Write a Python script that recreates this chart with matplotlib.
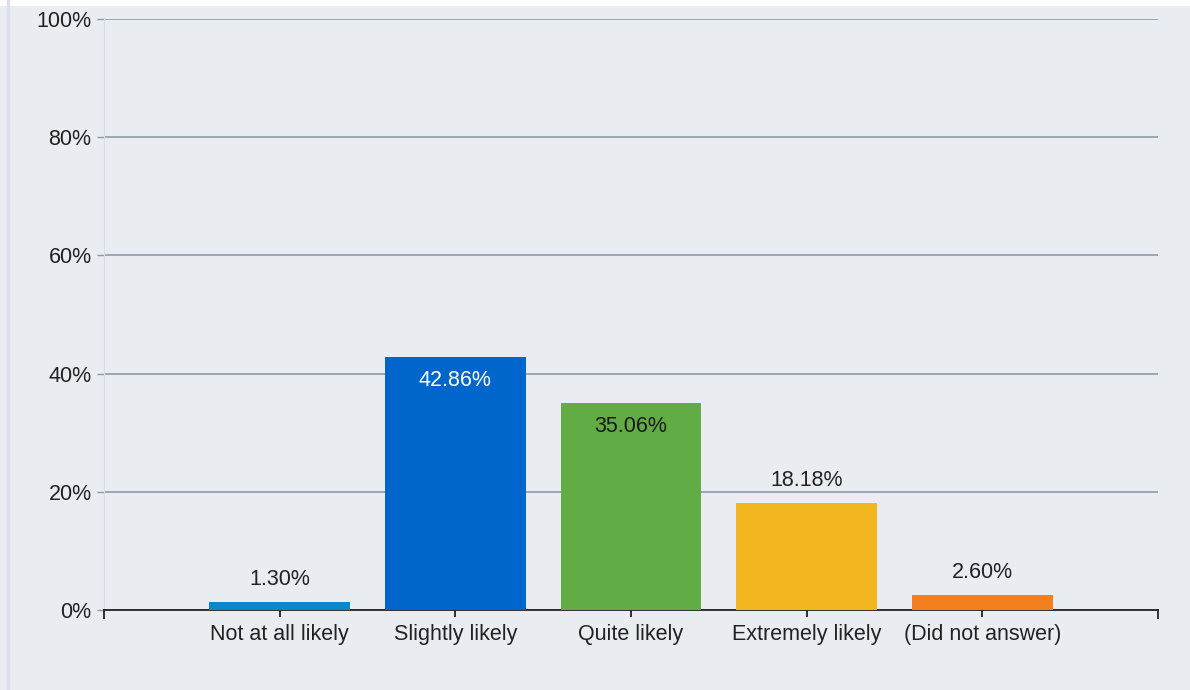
import matplotlib
matplotlib.use("Agg")
import matplotlib.pyplot as plt
from matplotlib.patches import Rectangle

CATEGORIES = ["Not at all likely", "Slightly likely", "Quite likely",
              "Extremely likely", "(Did not answer)"]
VALUES = [1.30, 42.86, 35.06, 18.18, 2.60]
COLORS = ["#0A86C9", "#0066CC", "#62AC45", "#F2B71E", "#F47F20"]
Y_TICKS = [0, 20, 40, 60, 80, 100]

BG = "#E9EDF1"
FS = 15.5
plt.rcParams['font.family'] = ['Liberation Sans', 'DejaVu Sans']

fig = plt.figure(figsize=(11.9, 6.9), dpi=100, facecolor=BG)
# light frame edges seen in the screenshot
fig.patches.append(Rectangle((0, 0.993), 1, 0.007, transform=fig.transFigure,
                             color="white", zorder=0))
fig.patches.append(Rectangle((0.0055, 0), 0.002, 1, transform=fig.transFigure,
                             color="#DCE0EC", zorder=0))

ax = fig.add_axes([104 / 1190, 1 - 610 / 690, (1158 - 104) / 1190, (610 - 19) / 690])
ax.set_facecolor(BG)

x = list(range(1, len(CATEGORIES) + 1))
ax.bar(x, VALUES, width=0.8, color=COLORS, zorder=3)

for xi, v in zip(x, VALUES):
    if v > 30:
        col = "white" if v > 40 else "#1a1a1a"
        ax.text(xi, v - 2.2, f"{v:.2f}%", ha="center", va="top",
                fontsize=FS, color=col, zorder=4)
    else:
        ax.text(xi, v + 2.0, f"{v:.2f}%", ha="center", va="bottom",
                fontsize=FS, color="#222222", zorder=4)

ax.set_xlim(0, 6)
ax.set_ylim(0, 100)
ax.set_yticks(Y_TICKS)
ax.set_yticklabels([f"{t}%" for t in Y_TICKS], fontsize=FS, color="#222222")
ax.set_xticks(x)
ax.set_xticklabels(CATEGORIES, fontsize=FS, color="#222222")

ax.yaxis.grid(True, color="#8D9BA7", linewidth=1.2, zorder=1)
ax.set_axisbelow(True)

ax.spines["top"].set_visible(False)
ax.spines["right"].set_visible(False)
ax.spines["left"].set_color("#D8DCEA")
ax.spines["bottom"].set_color("#222222")
ax.spines["bottom"].set_linewidth(1.3)

ax.tick_params(axis="x", length=5, width=1.3, color="#222222", pad=5)
ax.tick_params(axis="y", length=5, width=1, color="#8D9BA7", pad=4)

# end ticks of the category axis
for xe in (0, 6):
    ax.plot([xe, xe], [0, -1.3], color="#222222", lw=1.3, clip_on=False, zorder=5)

fig.savefig("out.png", dpi=100, facecolor=BG)
